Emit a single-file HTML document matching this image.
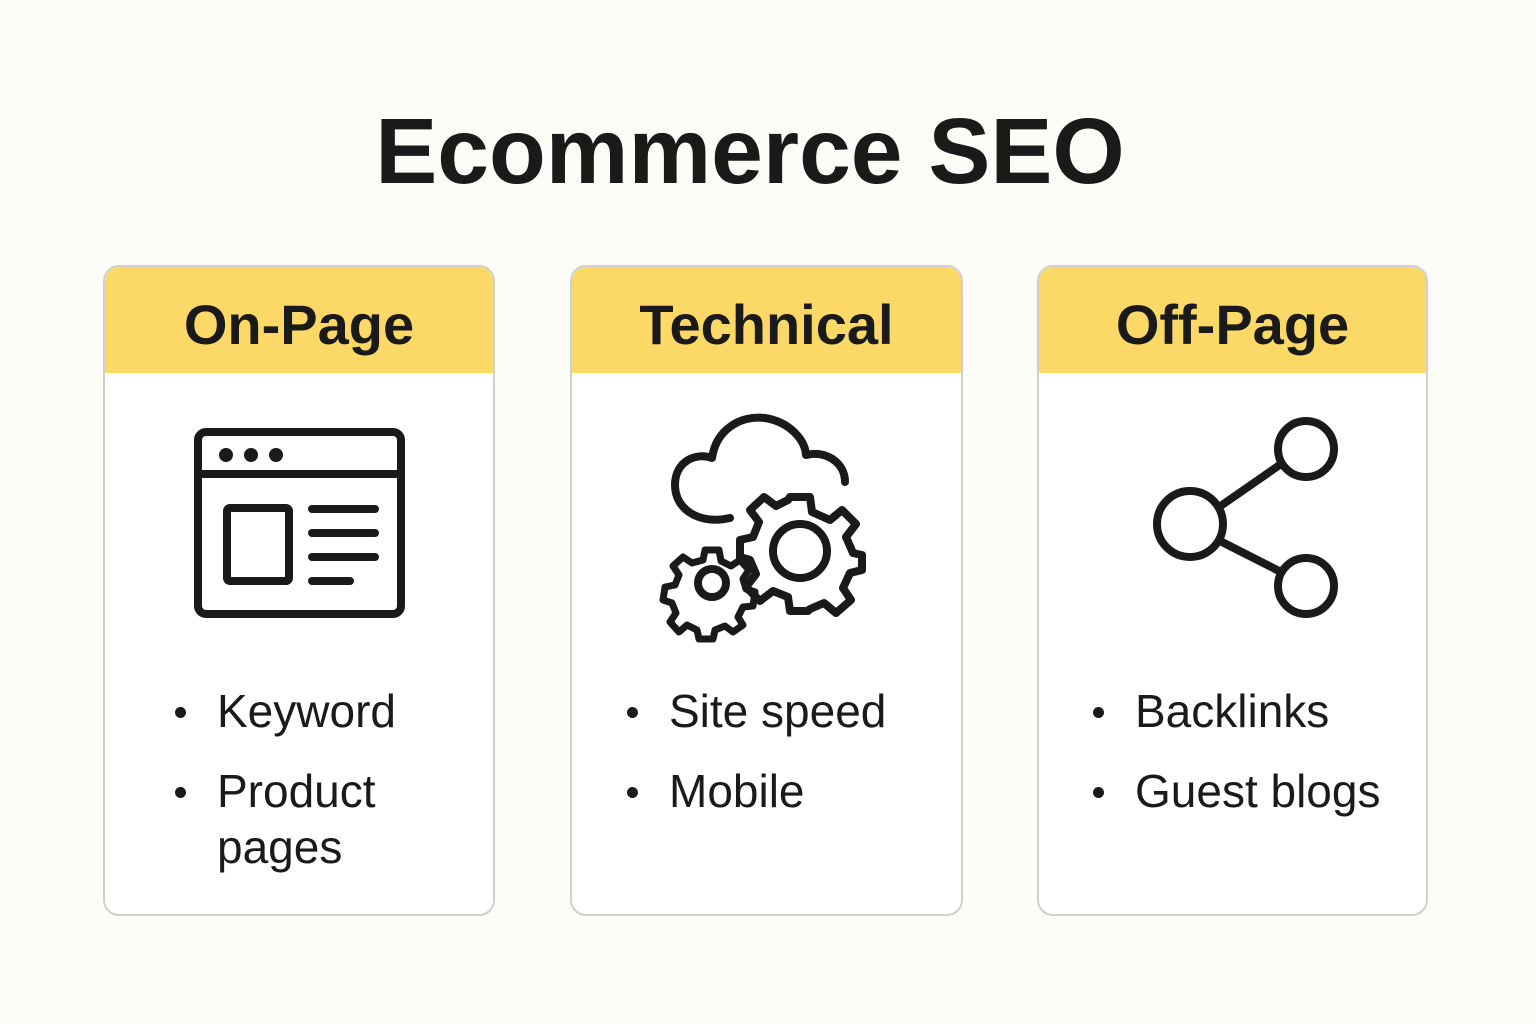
<!DOCTYPE html>
<html><head><meta charset="utf-8"><style>
html,body{margin:0;padding:0}
body{width:1536px;height:1024px;background:#fdfdf8;position:relative;overflow:hidden;font-family:"Liberation Sans",sans-serif;color:#1a1a1a}
.title{position:absolute;left:0;width:1500px;top:98px;text-align:center;font-size:93px;font-weight:bold;letter-spacing:0px}
.card{position:absolute;top:265px;height:651px;border:2px solid #cfcfcf;border-radius:16px;background:#fff;overflow:hidden;box-sizing:border-box}
.hd{height:106px;background:#fcd966;text-align:center;font-size:56px;font-weight:bold;line-height:116px}
.li{position:absolute;font-size:46px;line-height:56px}
.li::before{content:"";position:absolute;left:-42px;top:24px;width:11px;height:11px;border-radius:50%;background:#1a1a1a}
svg{position:absolute}
</style></head><body>
<div class="title">Ecommerce SEO</div>

<div class="card" style="left:103px;width:392px"><div class="hd">On-Page</div>
<div class="li" style="left:112px;top:416px">Keyword</div>
<div class="li" style="left:112px;top:496px">Product<br>pages</div>
</div>
<div class="card" style="left:570px;width:393px"><div class="hd">Technical</div>
<div class="li" style="left:97px;top:416px">Site speed</div>
<div class="li" style="left:97px;top:496px">Mobile</div>
</div>
<div class="card" style="left:1037px;width:391px"><div class="hd">Off-Page</div>
<div class="li" style="left:96px;top:416px">Backlinks</div>
<div class="li" style="left:96px;top:496px">Guest blogs</div>
</div>

<svg width="1536" height="1024" style="left:0;top:0" fill="none" stroke="#1a1a1a" stroke-width="8" stroke-linecap="round" stroke-linejoin="round">
<rect x="198" y="432" width="203" height="182" rx="8"/>
<line x1="198" y1="474" x2="401" y2="474"/>
<circle cx="226" cy="455" r="3" fill="#1a1a1a"/><circle cx="251" cy="455" r="3" fill="#1a1a1a"/><circle cx="276" cy="455" r="3" fill="#1a1a1a"/>
<rect x="227" y="508" width="62" height="73" rx="3"/>
<line x1="312" y1="509" x2="375" y2="509"/><line x1="312" y1="533" x2="375" y2="533"/><line x1="312" y1="557" x2="375" y2="557"/><line x1="312" y1="581" x2="350" y2="581"/>
<path d="M730 518 C700 525 675 510 675 485 C675 462 695 452 712 458 C716 430 740 415 765 418 C790 422 805 440 806 455 C825 450 845 462 845 482"/>
<circle cx="800" cy="551" r="27"/>
<path d="M790 497 L810 497 L812 512 L830 520 L842 510 L856 524 L846 537 L853 553 L862 555 L862 570 L850 573 L843 588 L851 600 L836 613 L824 603 L810 609 L808 611 L790 611 L788 597 L773 591 L760 601 L746 587 L756 574 L750 560 L740 557 L740 540 L753 537 L759 522 L750 510 L764 497 L776 506 L788 500 Z"/>
<circle cx="712" cy="583" r="14"/>
<path d="M705 550 L719 550 L721 561 L731 566 L740 560 L749 570 L743 579 L746 589 L755 592 L753 606 L743 607 L738 617 L743 625 L733 632 L725 626 L715 630 L713 639 L699 639 L697 630 L687 625 L679 632 L670 622 L676 613 L672 603 L663 600 L665 587 L675 585 L679 575 L673 566 L683 557 L692 563 L703 560 Z" stroke-width="7"/>
<circle cx="1306" cy="449" r="28"/><circle cx="1306" cy="586" r="28"/><circle cx="1190" cy="524" r="33"/>
<line x1="1222" y1="505" x2="1281" y2="464"/><line x1="1222" y1="542" x2="1281" y2="572"/>
</svg>
</body></html>
